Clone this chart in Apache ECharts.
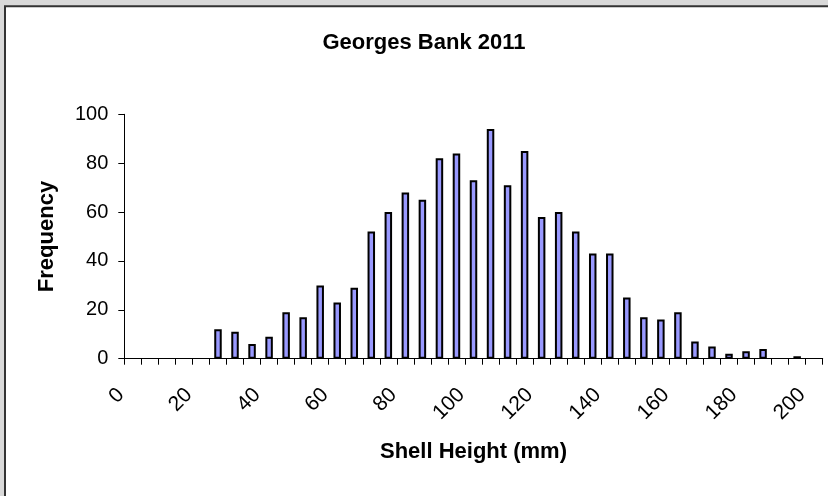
<!DOCTYPE html>
<html>
<head>
<meta charset="utf-8">
<title>Georges Bank 2011</title>
<script src="https://cdn.jsdelivr.net/npm/echarts@6/dist/echarts.min.js"></script>
<style>
  html, body { margin: 0; padding: 0; background: #d9d9d9; }
  #chart { width: 828px; height: 496px; }
</style>
</head>
<body>
<div id="chart"></div>
<script>
// Shell height bins (mm), 5 mm wide
const shellHeights = []
for (let h = 0; h <= 200; h += 5) shellHeights.push(String(h))

// Frequency per bin
const frequency = [
  0, 0, 0, 0, 0, 12, 11, 6, 9, 19,
  17, 30, 23, 29, 52, 60, 68, 65, 82, 84,
  73, 94, 71, 85, 58, 60, 52, 43, 43, 25,
  17, 16, 19, 7, 5, 2, 3, 4, 0, 1,
  0
]

const yTicks = [0, 20, 40, 60, 80, 100]

const chart = echarts.init(document.getElementById('chart'))
const font = 'Liberation Sans, Arial, sans-serif'

// empty bins are not drawn in the original (no flat outline)
const barData = frequency.map(v => (v === 0 ? '-' : v))

chart.setOption({
  backgroundColor: '#d9d9d9',
  animation: false,
  graphic: [{
    type: 'rect',
    z: -10,
    shape: { x: 5, y: 6.3, width: 900, height: 600 },
    style: { fill: '#fff', stroke: '#333', lineWidth: 2 }
  }],
  title: {
    text: 'Georges Bank 2011',
    left: 424,
    top: 32,
    padding: 0,
    textAlign: 'center',
    textStyle: { fontFamily: font, fontSize: 22, fontWeight: 'bold', color: '#000' }
  },
  grid: { left: 124.3, right: 5.3, top: 114.3, bottom: 137.3 },
  xAxis: {
    type: 'category',
    data: shellHeights,
    name: 'Shell Height (mm)',
    nameLocation: 'middle',
    nameGap: 82,
    nameTextStyle: { fontFamily: font, fontSize: 22, fontWeight: 'bold', color: '#000' },
    axisLine: { lineStyle: { color: '#000', width: 1 } },
    axisTick: { show: true, interval: 0, length: 6, lineStyle: { color: '#000' } },
    axisLabel: {
      interval: 3,
      rotate: 45,
      margin: 21,
      padding: [0, 17, 0, 0],
      fontFamily: font,
      fontSize: 21,
      color: '#000'
    },
    splitLine: { show: false }
  },
  yAxis: {
    type: 'value',
    min: yTicks[0],
    max: yTicks[yTicks.length - 1],
    interval: 20,
    name: 'Frequency',
    nameLocation: 'middle',
    nameGap: 66,
    nameTextStyle: { fontFamily: font, fontSize: 22, fontWeight: 'bold', color: '#000' },
    axisLine: { show: true, lineStyle: { color: '#000', width: 1 } },
    axisTick: { show: true, length: 6, lineStyle: { color: '#000' } },
    axisLabel: { margin: 16, fontFamily: font, fontSize: 20, color: '#000' },
    splitLine: { show: false }
  },
  series: [{
    type: 'bar',
    data: barData,
    barCategoryGap: '56%',
    itemStyle: { color: '#9999ff', borderColor: '#000', borderWidth: 2 }
  }]
})
</script>
</body>
</html>
